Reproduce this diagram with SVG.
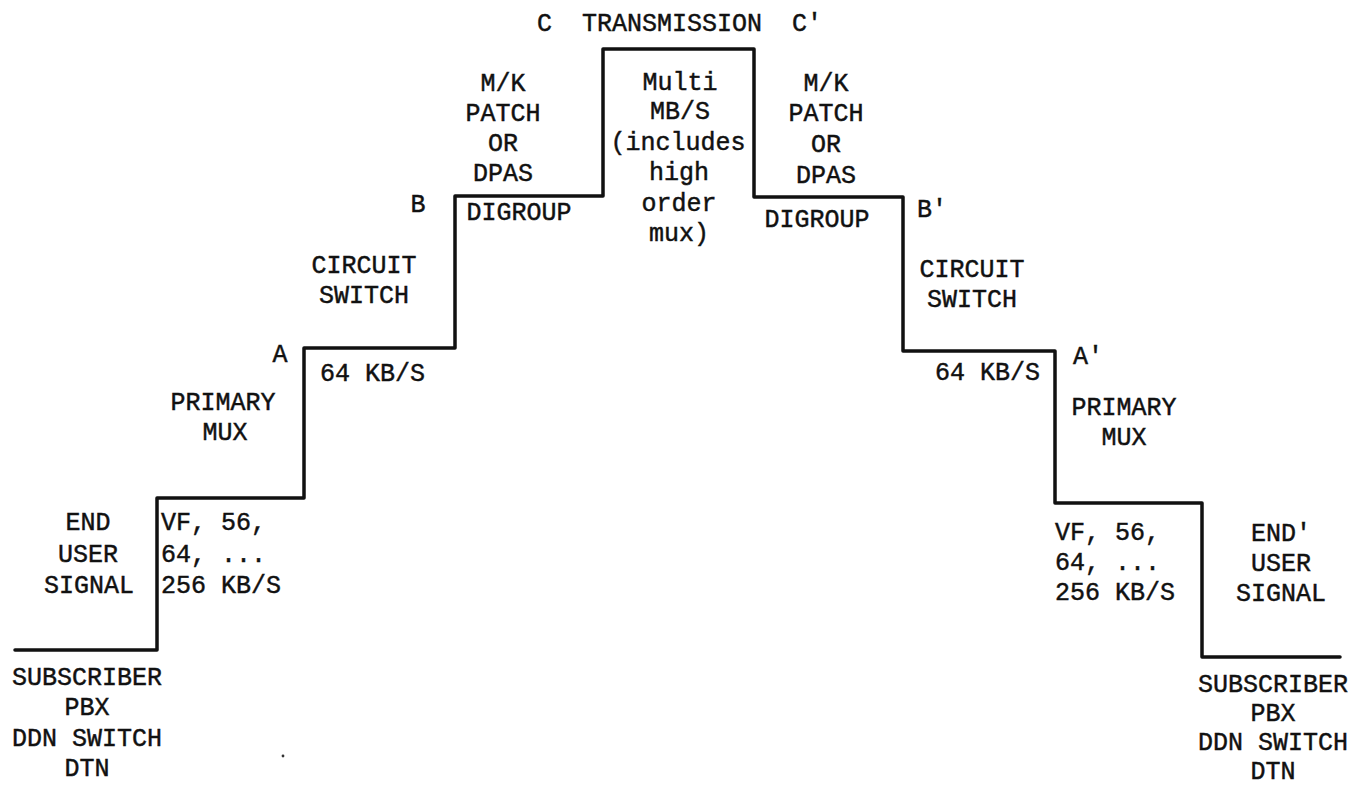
<svg xmlns="http://www.w3.org/2000/svg" width="1362" height="792" viewBox="0 0 1362 792">
<style>
text{font-family:"Liberation Mono","DejaVu Sans Mono",monospace;font-size:25px;fill:#111;stroke:#111;stroke-width:0.45px;}
.c{text-anchor:middle;}
.line{fill:none;stroke:#111;stroke-width:3.5;stroke-linejoin:round;stroke-linecap:round;}
</style>
<rect width="1362" height="792" fill="#fff"/>
<g id="connectors">
<path class="line" d="M15,650 H157 V498 H304 V348 H455 V196 H603 V49 H754 V197 H903 V351 H1055 V503 H1202 V657 H1340"/>
</g>
<g id="end-user-left">
<text class="c" x="88" y="530">END</text>
<text class="c" x="88" y="562">USER</text>
<text class="c" x="89" y="593">SIGNAL</text>
</g>
<g id="rate-left">
<text x="161" y="530">VF, 56,</text>
<text x="161" y="562">64, ...</text>
<text x="161" y="593">256 KB/S</text>
</g>
<g id="subscriber-left">
<text class="c" x="87" y="685">SUBSCRIBER</text>
<text class="c" x="87" y="715">PBX</text>
<text class="c" x="87" y="746">DDN SWITCH</text>
<text class="c" x="87" y="776">DTN</text>
</g>
<circle cx="283" cy="756" r="1.4" fill="#333"/>
<g id="primary-mux-left">
<text class="c" x="223" y="410">PRIMARY</text>
<text class="c" x="225" y="440">MUX</text>
</g>
<g id="point-a"><text class="c" x="280" y="362">A</text></g>
<g id="rate-64-left"><text x="320" y="381">64 KB/S</text></g>
<g id="circuit-switch-left">
<text class="c" x="364" y="273">CIRCUIT</text>
<text class="c" x="364" y="303">SWITCH</text>
</g>
<g id="point-b"><text class="c" x="418" y="212">B</text></g>
<g id="digroup-left"><text class="c" x="519" y="220">DIGROUP</text></g>
<g id="patch-left">
<text class="c" x="503" y="91">M/K</text>
<text class="c" x="503" y="121">PATCH</text>
<text class="c" x="503" y="151">OR</text>
<text class="c" x="503" y="181">DPAS</text>
</g>
<g id="transmission"><text x="537" y="31" xml:space="preserve">C  TRANSMISSION  C'</text></g>
<g id="multi">
<text class="c" x="680" y="90">Multi</text>
<text class="c" x="680" y="119">MB/S</text>
<text class="c" x="678" y="150">(includes</text>
<text class="c" x="679" y="180">high</text>
<text class="c" x="679" y="211">order</text>
<text class="c" x="679" y="241">mux)</text>
</g>
<g id="patch-right">
<text class="c" x="826" y="91">M/K</text>
<text class="c" x="826" y="121">PATCH</text>
<text class="c" x="826" y="152">OR</text>
<text class="c" x="826" y="183">DPAS</text>
</g>
<g id="digroup-right"><text class="c" x="817" y="227">DIGROUP</text></g>
<g id="point-b-prime"><text x="917" y="217">B'</text></g>
<g id="circuit-switch-right">
<text class="c" x="972" y="277">CIRCUIT</text>
<text class="c" x="972" y="307">SWITCH</text>
</g>
<g id="rate-64-right"><text x="935" y="380">64 KB/S</text></g>
<g id="point-a-prime"><text x="1073" y="364">A'</text></g>
<g id="primary-mux-right">
<text class="c" x="1124" y="415">PRIMARY</text>
<text class="c" x="1124" y="445">MUX</text>
</g>
<g id="rate-right">
<text x="1055" y="540">VF, 56,</text>
<text x="1055" y="570">64, ...</text>
<text x="1055" y="600">256 KB/S</text>
</g>
<g id="end-user-right">
<text class="c" x="1281" y="541">END'</text>
<text class="c" x="1281" y="571">USER</text>
<text class="c" x="1281" y="601">SIGNAL</text>
</g>
<g id="subscriber-right">
<text class="c" x="1273" y="692">SUBSCRIBER</text>
<text class="c" x="1273" y="721">PBX</text>
<text class="c" x="1273" y="750">DDN SWITCH</text>
<text class="c" x="1273" y="779">DTN</text>
</g>
</svg>
